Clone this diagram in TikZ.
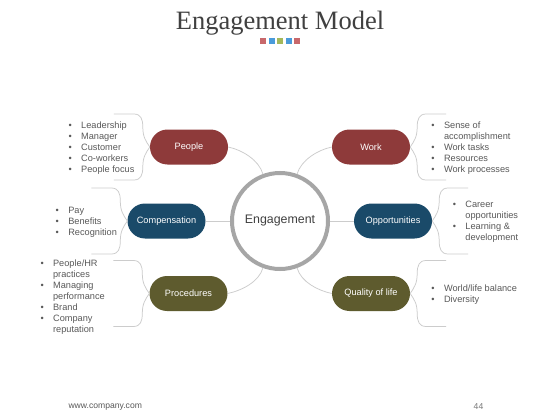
\documentclass[tikz,border=0pt]{standalone}
\usepackage{fontspec}
\setmainfont{Liberation Sans}
\newfontfamily\titlefont{Liberation Serif}
\usetikzlibrary{positioning,calc}
\definecolor{EngRed}{HTML}{8E3A3A}
\definecolor{EngBlue}{HTML}{1A4A69}
\definecolor{EngOlive}{HTML}{5E5B2E}
\definecolor{EngRing}{HTML}{A6A6A6}
\definecolor{EngLine}{HTML}{CCCCCC}
\definecolor{EngText}{HTML}{595959}
\definecolor{EngTitle}{HTML}{404040}
\definecolor{SqRed}{HTML}{C8686B}
\definecolor{SqBlue}{HTML}{4A9BDA}
\definecolor{SqGreen}{HTML}{A4B85A}
\newcommand{\bul}{\textbullet}
\tikzset{every node/.style={font=\fontsize{9.2}{11}\selectfont},
 pill/.style={rectangle,rounded corners=17.5pt,minimum width=78pt,minimum height=35pt,
 inner sep=0pt,text=white},link/.style={draw=EngLine,line width=.75pt},
 blist/.style={text=EngText,inner sep=0pt,anchor=west}}

\begin{document}
\begin{tikzpicture}[x=1pt,y=-1pt,
 ring/.style={circle,draw=EngRing,line width=4pt,minimum size=96pt,inner sep=0pt,
 text=EngTitle,font=\fontsize{12.4}{14}\selectfont}]
\useasboundingbox[fill=white] (0,0) rectangle (560,420);
\node[anchor=base,text=EngTitle,font=\titlefont\fontsize{26.5}{30}\selectfont] (title) at (280,29.5) {Engagement Model};
\foreach \c [count=\i] in {SqRed,SqBlue,SqGreen,SqBlue,SqRed}
 \fill[\c] (251.5+8.5*\i,38) rectangle +(6,6);
\node[ring] (eng) at (280,221) {Engagement};
\node[pill,fill=EngRed] (people) at (189,147) {People};
\node[pill,fill=EngRed] (work) at (371,147) {Work};
\node[pill,fill=EngBlue] (comp) at (166.5,221) {Compensation};
\node[pill,fill=EngBlue] (opp) at (393,221) {Opportunities};
\node[pill,fill=EngOlive] (proc) at (188.5,293.5) {Procedures};
\node[pill,fill=EngOlive] (qol) at (371,293.5) {Quality of life};
\draw[link] (comp)--(eng);
\draw[link] (eng)--(opp);
\draw[link] (eng.110) .. controls +(-4,-14) and +(14,3) .. (people.east);
\draw[link] (eng.70) .. controls +(4,-14) and +(-14,3) .. (work.west);
\draw[link] (eng.250) .. controls +(-4,14) and +(14,-3) .. (proc.east);
\draw[link] (eng.290) .. controls +(4,14) and +(-14,-3) .. (qol.west);
% braces
\foreach \n/\a/\s in {people/west/-1,comp/west/-1,proc/west/-1,work/east/1,opp/east/1,qol/east/1}
 \foreach \v in {-1,1}
 \draw[link] (\n.\a) .. controls +(4*\s,6*\v) and +(0,-10*\v) .. ++(7*\s,20*\v)
 .. controls +(0,8*\v) and +(-7*\s,0) .. ++(9*\s,13*\v) -- ++(20*\s,0);
\node[blist] (peoplelist) at (68.4,148) {\begin{tabular}{@{}c@{\hspace{9.4pt}}l@{}}
 \bul&Leadership\\ \bul&Manager\\ \bul&Customer\\ \bul&Co-workers\\ \bul&People focus\end{tabular}};
\node[blist] (complist) at (55.5,222) {\begin{tabular}{@{}c@{\hspace{9.4pt}}l@{}}
 \bul&Pay\\ \bul&Benefits\\ \bul&Recognition\end{tabular}};
\node[blist] (proclist) at (40.3,297.5) {\begin{tabular}{@{}c@{\hspace{9.4pt}}l@{}}
 \bul&People/HR\\ &practices\\ \bul&Managing\\ &performance\\ \bul&Brand\\ \bul&Company\\ &reputation\end{tabular}};
\node[blist] (worklist) at (431.2,148) {\begin{tabular}{@{}c@{\hspace{9.4pt}}l@{}}
 \bul&Sense of\\ &accomplishment\\ \bul&Work tasks\\ \bul&Resources\\ \bul&Work processes\end{tabular}};
\node[blist] (opplist) at (452.6,222) {\begin{tabular}{@{}c@{\hspace{9.4pt}}l@{}}
 \bul&Career\\ &opportunities\\ \bul&Learning \&\\ &development\end{tabular}};
\node[blist] (qollist) at (431.2,294.5) {\begin{tabular}{@{}c@{\hspace{9.4pt}}l@{}}
 \bul&World/life balance\\ \bul&Diversity\end{tabular}};
\node[anchor=west,text=EngText,font=\fontsize{8.6}{10}\selectfont] (url) at (65,407) {www.company.com};
\node[text=EngText!80,font=\fontsize{8.6}{10}\selectfont] (page) at (478.5,407) {44};
\end{tikzpicture}
\end{document}
